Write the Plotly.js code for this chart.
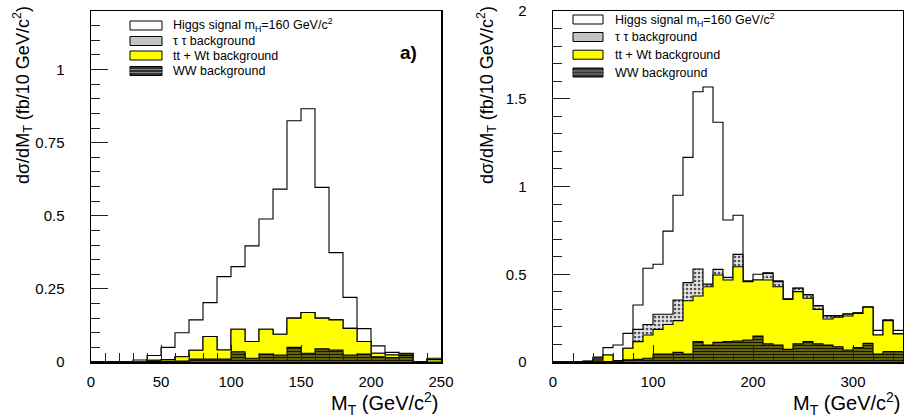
<!DOCTYPE html>
<html><head><meta charset="utf-8">
<script src="https://cdn.plot.ly/plotly-3.0.1.min.js"></script>
<style>html,body{margin:0;padding:0;background:#fff;}#chart{width:904px;height:419px;}</style>
</head><body><div id="chart"></div>
<script>
// ---- data: M_T bins (GeV/c^2), 10 GeV wide ----
const leftEdges = [0,10,20,30,40,50,60,70,80,90,100,110,120,130,140,150,160,170,180,190,200,210,220,230,240,250];
const rightEdges = [0,10,20,30,40,50,60,70,80,90,100,110,120,130,140,150,160,170,180,190,200,210,220,230,240,250,260,270,280,290,300,310,320,330,340,350];

// left panel a): contributions per bin (fb / 10 GeV/c^2)
const leftWW      = [0,0,0,0,0.002,0.002,0.003,0.010,0.010,0.010,0.035,0.013,0.027,0.024,0.050,0.030,0.045,0.041,0.024,0.027,0.018,0.015,0.022,0,0];
const leftTTWt    = [0,0,0,0,0.004,0.006,0.015,0.030,0.077,0.031,0.077,0.057,0.085,0.071,0.100,0.139,0.105,0.103,0.091,0.043,0.012,0.009,0.005,0,0.008];
const leftTauTau  = [0,0,0,0,0,0,0,0,0,0,0,0,0,0,0,0,0,0,0,0,0,0,0,0,0];
const leftSignal  = [0,0,0,0.007,0.016,0.042,0.082,0.104,0.116,0.251,0.214,0.327,0.377,0.496,0.675,0.697,0.447,0.230,0.106,0.044,0.025,0.009,0.003,0,0.005];

// right panel
const rightWW     = [0,0,0,0.002,0.005,0.003,0.005,0.012,0.015,0.021,0.046,0.046,0.055,0.046,0.116,0.097,0.112,0.116,0.120,0.125,0.148,0.103,0.097,0.072,0.103,0.116,0.103,0.097,0.087,0.068,0.083,0.106,0.046,0.059,0.059];
const rightTTWt   = [0,0,0,0.001,0.007,0.037,0.003,0.066,0.101,0.133,0.140,0.168,0.181,0.303,0.260,0.332,0.384,0.351,0.423,0.333,0.319,0.364,0.332,0.285,0.298,0.247,0.197,0.148,0.168,0.194,0.194,0.206,0.108,0.177,0.101];
const rightTauTau = [0,0,0,0.001,0.010,0,0,0,0.070,0.060,0.086,0.058,0.117,0.103,0.154,0.015,0.032,0.015,0.070,0,0,0.038,0.029,0,0.019,0.019,0.019,0.017,0.007,0.010,0,0,0,0,0];
const rightSignal = [0,0,0,0.002,0.006,0.042,0.089,0.085,0.139,0.320,0.285,0.474,0.597,0.714,1.010,1.123,0.838,0.327,0.223,0.004,0.033,0.003,0.004,0.003,0.002,0.003,0.003,0.002,0.002,0.003,0.003,0.002,0.026,0.004,0.020];

const legendLabels = ['Higgs signal m<sub>H</sub>=160 GeV/c<sup>2</sup>', '\u03c4 \u03c4 background', 'tt + Wt background', 'WW background'];
const xTitle = 'M<sub>T</sub> (GeV/c<sup>2</sup>)';
const yTitle = 'd\u03c3/dM<sub>T</sub> (fb/10 GeV/c<sup>2</sup>)';

// ---- helpers ----
function sum(...arrs){ return arrs[0].map((_,i)=>arrs.reduce((s,a)=>s+a[i],0)); }
function step(v){ return v.concat([v[v.length-1]]); }

const styles = [
  {fill:'tozeroy', fillcolor:'#ffffff'},
  {fill:'tozeroy', fillpattern:{shape:'.', bgcolor:'#e4e4e4', fgcolor:'#555555', size:4, solidity:0.35}},
  {fill:'tozeroy', fillcolor:'#ffff00'},
  {fill:'tozeroy', fillpattern:{shape:'-', bgcolor:'#6a6a08', fgcolor:'#151500', size:3, solidity:0.4}}
];

function panel(edges, sig, tau, tt, ww, xa, ya){
  const layers = [sum(sig,tau,tt,ww), sum(tau,tt,ww), sum(tt,ww), ww];
  return layers.map((v,k)=>Object.assign({
    type:'scatter', mode:'lines', x:edges, y:step(v), xaxis:xa, yaxis:ya,
    line:{color:'#000', width:1.1, shape:'hv'}, hoverinfo:'skip', showlegend:false
  }, styles[k]));
}

const traces = [].concat(
  panel(leftEdges, leftSignal, leftTauTau, leftTTWt, leftWW, 'x', 'y'),
  panel(rightEdges, rightSignal, rightTauTau, rightTTWt, rightWW, 'x2', 'y2')
);

const W = 904, H = 419;
const px = x => x / W, py = y => 1 - y / H;
const tickFont = {family:'Liberation Sans, Arial, sans-serif', size:15, color:'#000'};

function axisBase(){
  return {showline:true, mirror:true, linecolor:'#000', linewidth:1.5, showgrid:false, zeroline:false,
          ticks:'inside', ticklen:17, tickwidth:1, tickcolor:'#222', tickfont:tickFont, fixedrange:true};
}
const yDomain = [py(362), py(11)];

const layout = {
  width:W, height:H, margin:{l:0,r:0,t:0,b:0}, paper_bgcolor:'#fff', plot_bgcolor:'#fff', showlegend:false,
  xaxis: Object.assign(axisBase(), {domain:[px(91),px(441)], range:[0,250], tick0:0, dtick:50, anchor:'y',
          ticklabelstandoff:5, minor:{ticks:'inside', ticklen:9, dtick:10, tickcolor:'#222', tickwidth:1}}),
  yaxis: Object.assign(axisBase(), {domain:yDomain, range:[0,1.2], tick0:0, dtick:0.25, anchor:'x',
          ticklabelstandoff:22, minor:{ticks:'inside', ticklen:9, dtick:0.05, tickcolor:'#222', tickwidth:1}}),
  xaxis2: Object.assign(axisBase(), {domain:[px(553),px(903)], range:[0,350], tick0:0, dtick:100, anchor:'y2',
          ticklabelstandoff:5, minor:{ticks:'inside', ticklen:9, dtick:20, tickcolor:'#222', tickwidth:1}}),
  yaxis2: Object.assign(axisBase(), {domain:yDomain, range:[0,2], tick0:0, dtick:0.5, anchor:'x2',
          ticklabelstandoff:22, minor:{ticks:'inside', ticklen:9, dtick:0.1, tickcolor:'#222', tickwidth:1}}),
  annotations:[], shapes:[]
};

const xTitleFont = {family:'Liberation Sans, Arial, sans-serif', size:20, color:'#000'};
const yTitleFont = {family:'Liberation Sans, Arial, sans-serif', size:18, color:'#000'};
layout.annotations.push(
  {xref:'paper', yref:'paper', x:px(441), y:py(403), xanchor:'right', yanchor:'middle', text:xTitle, showarrow:false, font:xTitleFont},
  {xref:'paper', yref:'paper', x:px(903), y:py(403), xanchor:'right', yanchor:'middle', text:xTitle, showarrow:false, font:xTitleFont},
  {xref:'paper', yref:'paper', x:px(23), y:py(4), xanchor:'center', yanchor:'top', textangle:-90, text:yTitle, showarrow:false, font:yTitleFont},
  {xref:'paper', yref:'paper', x:px(487), y:py(4), xanchor:'center', yanchor:'top', textangle:-90, text:yTitle, showarrow:false, font:yTitleFont},
  {xref:'paper', yref:'paper', x:px(408), y:py(53), xanchor:'center', yanchor:'middle', text:'<b>a)</b>', showarrow:false,
   font:{family:'Liberation Sans, Arial, sans-serif', size:19, color:'#000'}}
);

// custom legends (ROOT style boxes)
const legFont = {family:'Liberation Sans, Arial, sans-serif', size:12.5, color:'#000'};
const swatchFill = ['#ffffff','#c4c4c4','#ffff00','#333333'];
function legend(x0, x1, tx, rows){
  rows.forEach((yc,k)=>{
    layout.shapes.push({type:'rect', xref:'paper', yref:'paper', x0:px(x0), x1:px(x1), y0:py(yc+4.5), y1:py(yc-4.5),
      fillcolor:swatchFill[k], line:{color:'#000', width:1}});
    if(k===3){
      [-1.5,1.5].forEach(d=>layout.shapes.push({type:'line', xref:'paper', yref:'paper', x0:px(x0), x1:px(x1), y0:py(yc+d), y1:py(yc+d), line:{color:'#888', width:1}}));
    }
    layout.annotations.push({xref:'paper', yref:'paper', x:px(tx), y:py(yc), xanchor:'left', yanchor:'middle',
      text:legendLabels[k], showarrow:false, font:legFont});
  });
}
legend(130, 162, 171, [25.5, 41, 55.5, 71]);
legend(573, 603, 613, [19.5, 37, 54.7, 72.5]);

Plotly.newPlot('chart', traces, layout, {displayModeBar:false, staticPlot:true});
</script></body></html>
